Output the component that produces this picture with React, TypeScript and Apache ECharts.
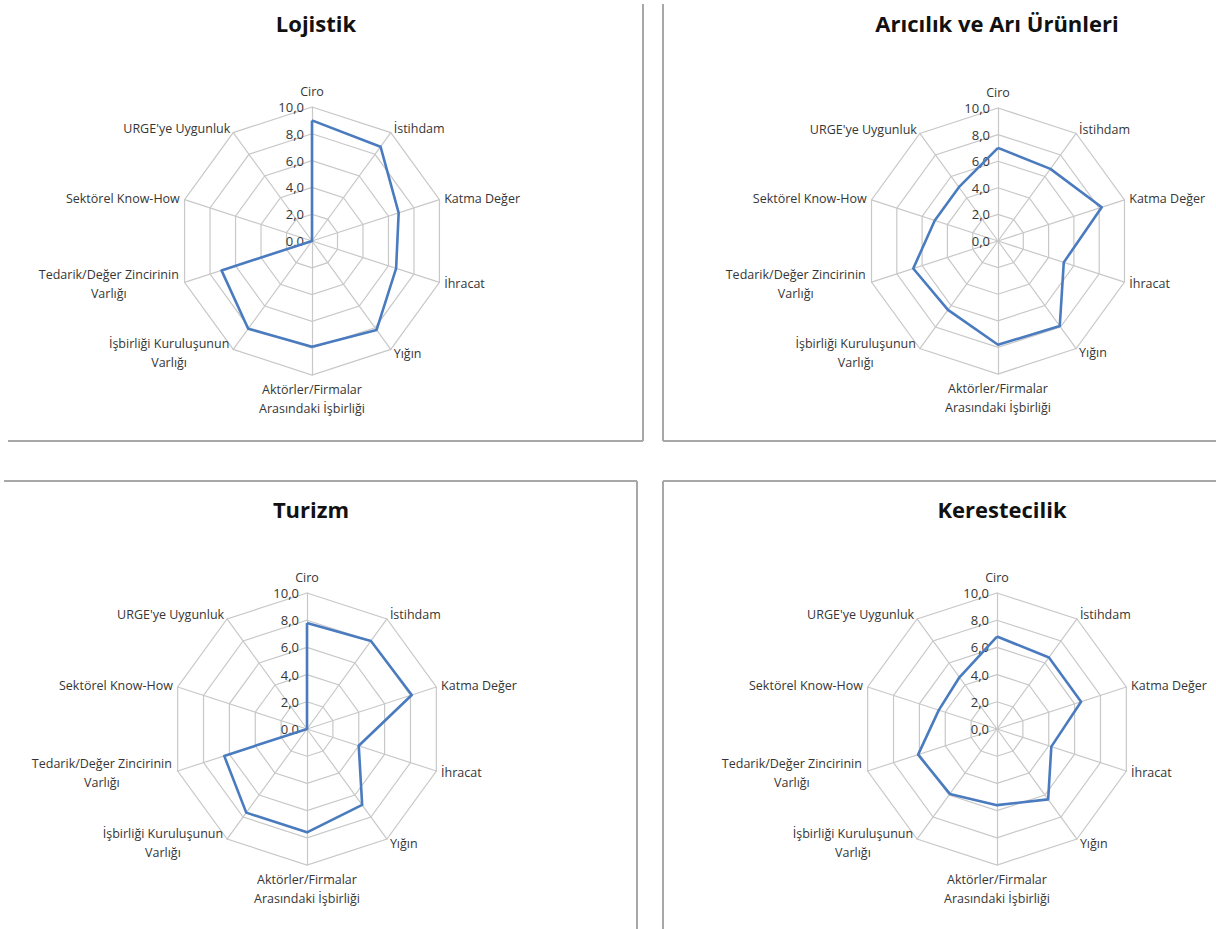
import React, { useEffect, useRef } from 'react';
import * as echarts from 'echarts';

// ---------- data ----------
const indicatorNames = [
  'Ciro',
  'İstihdam',
  'Katma Değer',
  'İhracat',
  'Yığın',
  'Aktörler/Firmalar\nArasındaki İşbirliği',
  'İşbirliği Kuruluşunun\nVarlığı',
  'Tedarik/Değer Zincirinin\nVarlığı',
  'Sektörel Know-How',
  "URGE'ye Uygunluk",
];
const chartTitles = ['Lojistik', 'Arıcılık ve Arı Ürünleri', 'Turizm', 'Kerestecilik'];
const lojistik = [9.0, 8.7, 6.8, 6.6, 8.2, 7.9, 8.1, 7.1, 0, 0];
const aricilik = [7.0, 6.7, 8.2, 5.2, 7.9, 7.8, 6.4, 6.7, 5.0, 5.0];
const turizm = [7.8, 8.0, 8.1, 4.0, 6.9, 7.6, 7.6, 6.4, 0, 0];
const kerestecilik = [6.8, 6.5, 6.5, 4.2, 6.4, 5.6, 5.9, 6.1, 4.5, 4.7];
const tickLabels = ['0,0', '2,0', '4,0', '6,0', '8,0', '10,0'];
const axisMax = 10;

const seriesValues = [lojistik, aricilik, turizm, kerestecilik];

// ---------- layout ----------
const panels = [
  { cx: 312, cy: 241, r: 134, titleX: 311, titleY: 7 },
  { cx: 998, cy: 241, r: 133, titleX: 992, titleY: 7 },
  { cx: 307, cy: 729, r: 136, titleX: 306, titleY: 493 },
  { cx: 997, cy: 729, r: 136, titleX: 997, titleY: 493 },
];

const NAME_FONT = 12.5;
const NAME_FAMILY = '"Open Sans", "Noto Sans", sans-serif';
const NAME_COLOR = '#363636';
const GRID = '#c8c8c8';
const LINE = '#4a7bbf';
const BORDER = '#a8a8a8';

// ECharts lays indicators counter-clockwise; reorder so they read clockwise
const order = [0, 9, 8, 7, 6, 5, 4, 3, 2, 1];

function measure(text: string): number {
  const c = document.createElement('canvas');
  const ctx = c.getContext('2d');
  if (!ctx) return text.length * 7;
  ctx.font = `${NAME_FONT}px ${NAME_FAMILY}`;
  return ctx.measureText(text).width;
}

export default function App() {
  const ref = useRef<HTMLDivElement>(null);
  useEffect(() => {
    if (!ref.current) return;
    const chart = echarts.init(ref.current, undefined, { renderer: 'svg' });

    const rich: Record<string, any> = {};
    const keyFor: Record<string, string> = {};
    indicatorNames.forEach((n, i) => {
      if (n.includes('\n')) {
        const w = Math.max(...n.split('\n').map(measure)) + 2;
        const key = 'k' + i;
        keyFor[n] = key;
        rich[key] = {
          width: w,
          align: 'center',
          fontSize: NAME_FONT,
          fontFamily: NAME_FAMILY,
          color: NAME_COLOR,
          lineHeight: 19,
        };
      }
    });

    const nameFormatter = (name: string) => {
      const key = keyFor[name];
      if (!key) return name;
      return name
        .split('\n')
        .map((l) => `{${key}|${l}}`)
        .join('\n');
    };

    const radar = panels.map((p) => ({
      center: [p.cx, p.cy],
      radius: p.r,
      shape: 'polygon',
      startAngle: 90,
      splitNumber: 5,
      nameGap: 5,
      indicator: order.map((idx, k) => ({
        name: indicatorNames[idx],
        min: 0,
        max: axisMax,
        ...(k === 0 ? { axisLabel: { show: true } } : {}),
      })),
      axisName: {
        color: NAME_COLOR,
        fontSize: NAME_FONT,
        fontFamily: NAME_FAMILY,
        lineHeight: 19,
        formatter: nameFormatter,
        rich,
      },
      axisLine: { show: true, lineStyle: { color: GRID, width: 1.2 } },
      splitLine: { show: true, lineStyle: { color: GRID, width: 1.2 } },
      splitArea: { show: false },
      axisTick: { show: false },
      axisLabel: {
        show: false,
        color: NAME_COLOR,
        fontSize: 13,
        fontFamily: NAME_FAMILY,
        margin: 8,
        formatter: (v: number) => tickLabels[Math.round(v / 2)] ?? String(v),
      },
    }));

    const series = seriesValues.map((vals, i) => ({
      type: 'radar',
      radarIndex: i,
      symbol: 'none',
      lineStyle: { color: LINE, width: 2.6 },
      itemStyle: { color: LINE },
      data: [{ value: order.map((idx) => vals[idx]), name: chartTitles[i] }],
    }));

    const title = panels.map((p, i) => ({
      text: chartTitles[i],
      left: p.titleX,
      top: p.titleY,
      textAlign: 'center',
      textStyle: {
        fontFamily: NAME_FAMILY,
        fontWeight: 'bold',
        fontSize: 22,
        color: '#111111',
      },
    }));

    const ln = (x1: number, y1: number, x2: number, y2: number) => ({
      type: 'line',
      shape: { x1, y1, x2, y2 },
      style: { stroke: BORDER, lineWidth: 2 },
      silent: true,
    });

    const graphic = [
      ln(643, 4, 643, 441),
      ln(8, 441, 643, 441),
      ln(663, 4, 663, 441),
      ln(663, 441, 1216, 441),
      ln(4, 481, 637, 481),
      ln(637, 481, 637, 929),
      ln(663, 481, 1216, 481),
      ln(663, 481, 663, 929),
    ];

    chart.setOption({
      animation: false,
      backgroundColor: '#ffffff',
      title,
      radar,
      series,
      graphic,
    } as any);

    return () => chart.dispose();
  }, []);

  return (
    <div
      ref={ref}
      style={{ position: 'fixed', left: 0, top: 0, width: 1216, height: 929, background: '#fff' }}
    />
  );
}
